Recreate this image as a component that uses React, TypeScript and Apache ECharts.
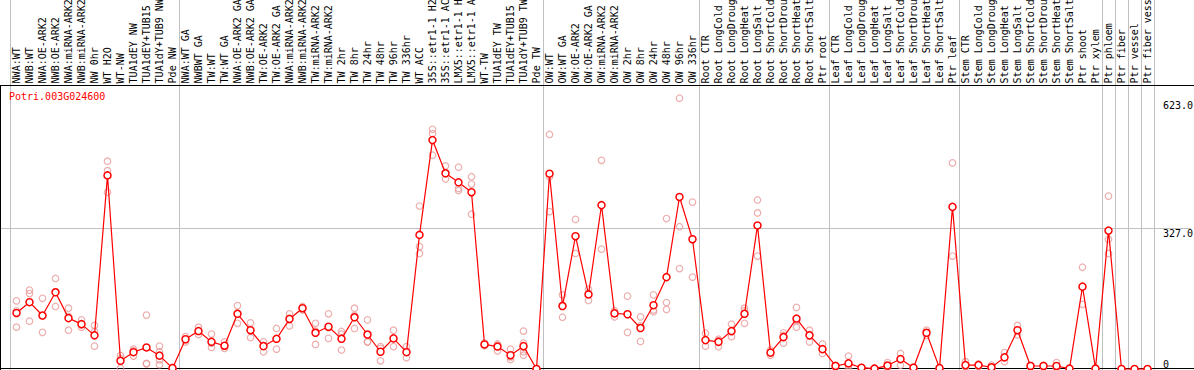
import React, { useEffect, useRef } from 'react';
import * as echarts from 'echarts';

const geneId = 'Potri.003G024600';

const categories = [
  'NWA:WT', 'NWB:WT', 'NWA:OE-ARK2', 'NWB:OE-ARK2', 'NWA:miRNA-ARK2', 'NWB:miRNA-ARK2', 'NW 0hr', 'WT H2O', 'WT-NW', 'TUA1dEY NW', 'TUA1dEY+TUB15 NW', 'TUA1dY+TUB9 NW', 'Pde NW',
  'NWA:WT GA', 'NWBWT GA', 'TW:WT', 'TW:WT GA', 'NWA:OE-ARK2 GA', 'NWB:OE-ARK2 GA', 'TW:OE-ARK2', 'TW:OE-ARK2 GA', 'NWA:miRNA-ARK2 GA', 'NWB:miRNA-ARK2 GA', 'TW:miRNA-ARK2', 'TW:miRNA-ARK2 GA', 'TW 2hr', 'TW 8hr', 'TW 24hr', 'TW 48hr', 'TW 96hr', 'TW 336hr', 'WT ACC', '35S::etr1-1 H2O', '35S::etr1-1 ACC', 'LMX5::etr1-1 H2O', 'LMX5::etr1-1 ACC', 'WT-TW', 'TUA1dEY TW', 'TUA1dEY+TUB15 TW', 'TUA1dY+TUB9 TW', 'Pde TW',
  'OW:WT', 'OW:WT GA', 'OW:OE-ARK2', 'OW:OE-ARK2 GA', 'OW:miRNA-ARK2', 'OW:miRNA-ARK2 GA', 'OW 2hr', 'OW 8hr', 'OW 24hr', 'OW 48hr', 'OW 96hr', 'OW 336hr',
  'Root CTR', 'Root LongCold', 'Root LongDrought', 'Root LongHeat', 'Root LongSalt', 'Root ShortCold', 'Root ShortDrought', 'Root ShortHeat', 'Root ShortSalt', 'Ptr root',
  'Leaf CTR', 'Leaf LongCold', 'Leaf LongDrought', 'Leaf LongHeat', 'Leaf LongSalt', 'Leaf ShortCold', 'Leaf ShortDrought', 'Leaf ShortHeat', 'Leaf ShortSalt', 'Ptr leaf',
  'Stem CTR', 'Stem LongCold', 'Stem LongDrought', 'Stem LongHeat', 'Stem LongSalt', 'Stem ShortCold', 'Stem ShortDrought', 'Stem ShortHeat', 'Stem ShortSalt', 'Ptr shoot', 'Ptr xylem',
  'Ptr phloem', 'Ptr fiber', 'Ptr vessel', 'Ptr fiber vessel',
];

// number of categories in each separated group
const groupSizes = [13, 28, 12, 10, 10, 11, 1, 1, 1, 1];

const meanValues = [
  130, 155, 124, 178, 118, 104, 78, 449, 19, 39, 50, 31, 2,
  69, 88, 63, 54, 128, 90, 53, 70, 116, 141, 84, 98, 70, 120, 80, 40, 71, 39, 311, 531, 454, 433, 410, 57, 52, 32, 53, 0,
  453, 146, 308, 173, 380, 129, 127, 95, 148, 213, 399, 301,
  67, 63, 88, 128, 333, 38, 74, 117, 78, 46,
  7, 13, 3, 1, 8, 23, 3, 84, 2, 376,
  9, 9, 4, 27, 90, 7, 7, 7, 1, 191, 1,
  321, 0, 0, 0,
];

const replicates = [
  [158, 135, 97], [183, 175, 111], [164, 124, 85], [210, 179, 145], [141, 122, 90], [114, 102, 97], [101, 87, 53], [482, 460, 410], [31, 24, 2], [46, 42, 30], [125, 13, 12], [53, 40, 21, 10], [4, 2, 0],
  [75, 69, 63], [97, 88, 80], [81, 60, 50], [63, 54, 48], [147, 130, 106], [107, 90, 73], [63, 55, 40], [94, 70, 46], [128, 118, 100], [145, 141, 137], [106, 88, 57], [128, 96, 71], [87, 81, 44], [141, 124, 94], [114, 63, 63], [52, 48, 19], [90, 71, 52], [52, 39, 26], [378, 284, 268], [556, 546, 496], [471, 454, 441], [468, 419, 414], [446, 429, 359], [60, 57, 54], [58, 55, 42], [46, 28, 22], [88, 60, 50, 40, 32], [0, 0, 0],
  [544, 446, 365], [172, 146, 120], [347, 308, 268], [185, 175, 159], [484, 380, 278], [135, 130, 121], [169, 127, 85], [121, 100, 64], [172, 137, 133], [349, 154, 138], [628, 330, 233], [387, 301, 213],
  [83, 67, 53], [69, 66, 52], [104, 86, 75], [141, 135, 106], [392, 362, 262], [44, 38, 32], [84, 78, 60], [143, 112, 97], [90, 80, 63], [58, 46, 36],
  [9, 7, 4], [30, 8, 2], [4, 3, 1], [2, 1, 0], [15, 6, 3], [36, 23, 9], [5, 3, 1], [90, 84, 78], [3, 2, 1], [478, 376, 262],
  [17, 6, 4], [12, 9, 6], [9, 3, 1], [38, 27, 17], [101, 90, 79], [9, 7, 5], [9, 7, 5], [15, 5, 2], [2, 1, 0], [236, 191, 150], [2, 1, 0],
  [401, 301, 268], [0, 0, 0], [0, 0, 0], [0, 0, 0],
];

const yMax = 623;
const yGridValue = 327;

const FONT = 'DejaVu Sans Mono';
const RED = '#ff0000';
const REP = '#e89a9a';
const GRAY = '#c0c0c0';

export default function App() {
  const ref = useRef<HTMLDivElement>(null);

  useEffect(() => {
    document.body.style.margin = '0';
    const chart = echarts.init(ref.current!, null, { renderer: 'svg' });

    const repData: number[][] = [];
    replicates.forEach((arr, i) => arr.forEach((v) => repData.push([i, v])));

    const yAxisBase = {
      type: 'value',
      min: 0,
      max: yMax,
      interval: yGridValue,
      position: 'right',
      axisLine: { show: false },
      axisTick: { show: false },
      splitLine: { show: false },
    };

    chart.setOption({
      animation: false,
      textStyle: { fontFamily: FONT },
      title: {
        text: geneId,
        left: 9,
        top: 91,
        padding: 0,
        textStyle: { color: RED, fontSize: 10, fontWeight: 'normal', fontFamily: FONT },
      },
      grid: { left: 10, right: 40, top: 100.4, bottom: 1, containLabel: false, outerBoundsMode: 'none' },
      xAxis: {
        type: 'category',
        data: categories,
        position: 'top',
        boundaryGap: true,
        axisLine: { show: false },
        axisTick: { show: false },
        splitLine: { show: false },
        axisLabel: {
          rotate: 90,
          interval: 0,
          hideOverlap: false,
          margin: 17,
          fontSize: 10,
          fontFamily: FONT,
          color: '#000',
        },
      },
      yAxis: [
        {
          ...yAxisBase,
          axisLabel: {
            formatter: (v: number) => (v === 0 ? '' : v.toFixed(1)),
            verticalAlign: 'top',
            margin: 9,
            fontSize: 10,
            fontFamily: FONT,
            color: '#000',
          },
        },
        {
          ...yAxisBase,
          axisLabel: {
            formatter: (v: number) => (v === 0 ? '0' : ''),
            verticalAlign: 'bottom',
            margin: 9,
            fontSize: 10,
            fontFamily: FONT,
            color: '#000',
          },
        },
      ],
      series: [
        {
          type: 'scatter',
          data: repData,
          symbol: 'circle',
          symbolSize: 6.5,
          clip: false,
          z: 2,
          itemStyle: { color: 'rgba(255,255,255,0)', borderColor: REP, borderWidth: 1.2 },
        },
        {
          type: 'line',
          data: meanValues,
          symbol: 'circle',
          symbolSize: 7,
          showAllSymbol: true,
          clip: false,
          z: 3,
          lineStyle: { color: RED, width: 1.2 },
          itemStyle: { color: '#ffffff', borderColor: RED, borderWidth: 1.5 },
        },
      ],
    });

    // decorations: group separators, frame and the 327 gridline, placed via the chart's own scales
    const c0 = chart.convertToPixel({ xAxisIndex: 0 }, 0) as number;
    const c1 = chart.convertToPixel({ xAxisIndex: 0 }, 1) as number;
    const band = c1 - c0;
    const start = c0 - band / 2;
    const yGrid = chart.convertToPixel({ yAxisIndex: 0 }, yGridValue) as number;
    const yZero = chart.convertToPixel({ yAxisIndex: 0 }, 0) as number;

    const bounds: number[] = [0];
    groupSizes.forEach((s) => bounds.push(bounds[bounds.length - 1] + s));

    const graphics: any[] = [];
    bounds.forEach((n) => {
      const x = Math.floor(start + n * band) + 0.5;
      graphics.push({
        type: 'line',
        silent: true,
        z: 0,
        shape: { x1: x, y1: 0, x2: x, y2: 370 },
        style: { stroke: GRAY, lineWidth: 1 },
      });
    });
    const yg = Math.floor(yGrid) + 0.5;
    graphics.push({
      type: 'line', silent: true, z: 0,
      shape: { x1: 0, y1: yg, x2: 1191, y2: yg },
      style: { stroke: GRAY, lineWidth: 1 },
    });
    graphics.push({
      type: 'line', silent: true, z: 1,
      shape: { x1: 0, y1: 85.5, x2: 1194, y2: 85.5 },
      style: { stroke: '#000', lineWidth: 1 },
    });
    const yb = Math.floor(yZero) - 0.5;
    graphics.push({
      type: 'line', silent: true, z: 1,
      shape: { x1: 0, y1: yb, x2: 1194, y2: yb },
      style: { stroke: '#000', lineWidth: 1 },
    });
    graphics.push({
      type: 'line', silent: true, z: 1,
      shape: { x1: 0.5, y1: 85, x2: 0.5, y2: 370 },
      style: { stroke: '#000', lineWidth: 1 },
    });

    chart.setOption({ graphic: graphics });

    return () => chart.dispose();
  }, []);

  return <div ref={ref} style={{ width: 1194, height: 370 }} />;
}
